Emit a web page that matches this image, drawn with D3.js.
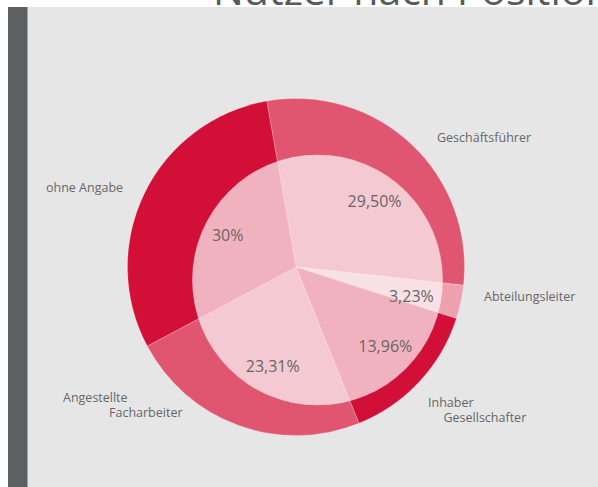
<!DOCTYPE html>
<html>
<head>
  <meta charset="utf-8">
  <script src="https://d3js.org/d3.v7.min.js"></script>
  <style>
    body { margin: 0; background: #fff; }
    svg text { font-family: "Open Sans", sans-serif; }
  </style>
</head>
<body>
<script>
  // data
  var title = "Nutzer nach Position";
  var categories = ["Geschäftsführer", "Abteilungsleiter", "Inhaber|Gesellschafter", "Angestellte|Facharbeiter", "ohne Angabe"];
  var shares = [29.50, 3.23, 13.96, 23.31, 30];
  var shareLabels = ["29,50%", "3,23%", "13,96%", "23,31%", "30%"];

  // styles
  var outerColors = ["#e05670", "#eea0ae", "#d20f37", "#e05670", "#d20f37"];
  var innerColors = ["#f5c9d2", "#f8e1e5", "#f1b2bf", "#f5c9d2", "#f1b2bf"];
  var textColor = "#666";

  var width = 598, height = 487;
  var cx = 296, cy = 267;          // pie centre
  var outerR = 168.5;              // outer ring
  var innerOff = [21.5, 13], innerR = 125.3;   // inner disc is shifted
  // outer label anchors, relative to the pie centre (dx of each line, dy of first baseline)
  var labelLayout = [
    { dx: [141], dy: -125 },
    { dx: [188], dy: 34 },
    { dx: [132, 147.5], dy: 140 },
    { dx: [-233, -187], dy: 135 },
    { dx: [-250], dy: -75 }
  ];

  var svg = d3.select("body").append("svg")
      .attr("width", width)
      .attr("height", height);

  // background panel + left bar
  svg.append("rect").attr("x", 8).attr("y", 7)
      .attr("width", width - 8).attr("height", height - 7)
      .attr("fill", "#e6e6e6");
  svg.append("rect").attr("x", 8).attr("y", 7)
      .attr("width", 19.5).attr("height", height - 7)
      .attr("fill", "#5e5f61");

  svg.append("text")
      .attr("x", 213).attr("y", 5)
      .style("font-size", "41px")
      .attr("fill", "#5a5a5a")
      .text(title);

  var pie = d3.pie().sort(null).value(function(d) { return d; })
      .startAngle(-10 * Math.PI / 180)
      .endAngle(350 * Math.PI / 180);
  var slices = pie(shares);

  var arc = d3.arc().innerRadius(0).outerRadius(outerR);

  var g = svg.append("g").attr("transform", "translate(" + cx + "," + cy + ")");

  // outer (dark) layer
  g.append("g").selectAll("path")
      .data(slices)
      .enter().append("path")
      .attr("d", arc)
      .attr("fill", function(d, i) { return outerColors[i]; })
      .attr("stroke", "#fff").attr("stroke-opacity", 0.35).attr("stroke-width", 0.6);

  // inner (light) layer, clipped to the shifted disc
  g.append("clipPath").attr("id", "innerClip")
    .append("circle")
      .attr("cx", innerOff[0]).attr("cy", innerOff[1]).attr("r", innerR);

  g.append("g").attr("clip-path", "url(#innerClip)")
    .selectAll("path")
      .data(slices)
      .enter().append("path")
      .attr("d", arc)
      .attr("fill", function(d, i) { return innerColors[i]; })
      .attr("stroke", "#fff").attr("stroke-opacity", 0.45).attr("stroke-width", 0.7);

  // percent labels: from a point halfway to the disc centre, along the mid angle,
  // 78% of the way out to the disc edge
  var ox = innerOff[0] / 2, oy = innerOff[1] / 2;
  function edgeDistance(a) {
    var ux = Math.sin(a), uy = -Math.cos(a);
    var ex = innerOff[0] - ox, ey = innerOff[1] - oy;
    var p = ux * ex + uy * ey;
    var q = ex * ex + ey * ey;
    return p + Math.sqrt(p * p - q + innerR * innerR);
  }

  g.append("g").selectAll("text")
      .data(slices)
      .enter().append("text")
      .attr("transform", function(d) {
        var a = (d.startAngle + d.endAngle) / 2;
        var r = 0.78 * edgeDistance(a);
        return "translate(" + (ox + Math.sin(a) * r) + "," + (oy - Math.cos(a) * r) + ")";
      })
      .attr("dy", "0.36em")
      .attr("text-anchor", "middle")
      .style("font-size", "16px")
      .attr("fill", textColor)
      .text(function(d, i) { return shareLabels[i]; });

  // category labels
  var labels = g.append("g").selectAll("text")
      .data(categories)
      .enter().append("text")
      .style("font-size", "12.5px")
      .attr("fill", textColor);

  labels.each(function(c, i) {
    var lines = c.split("|");
    var t = d3.select(this);
    lines.forEach(function(line, j) {
      t.append("tspan")
        .attr("x", labelLayout[i].dx[j])
        .attr("y", labelLayout[i].dy + j * 15)
        .text(line);
    });
  });
</script>
</body>
</html>
